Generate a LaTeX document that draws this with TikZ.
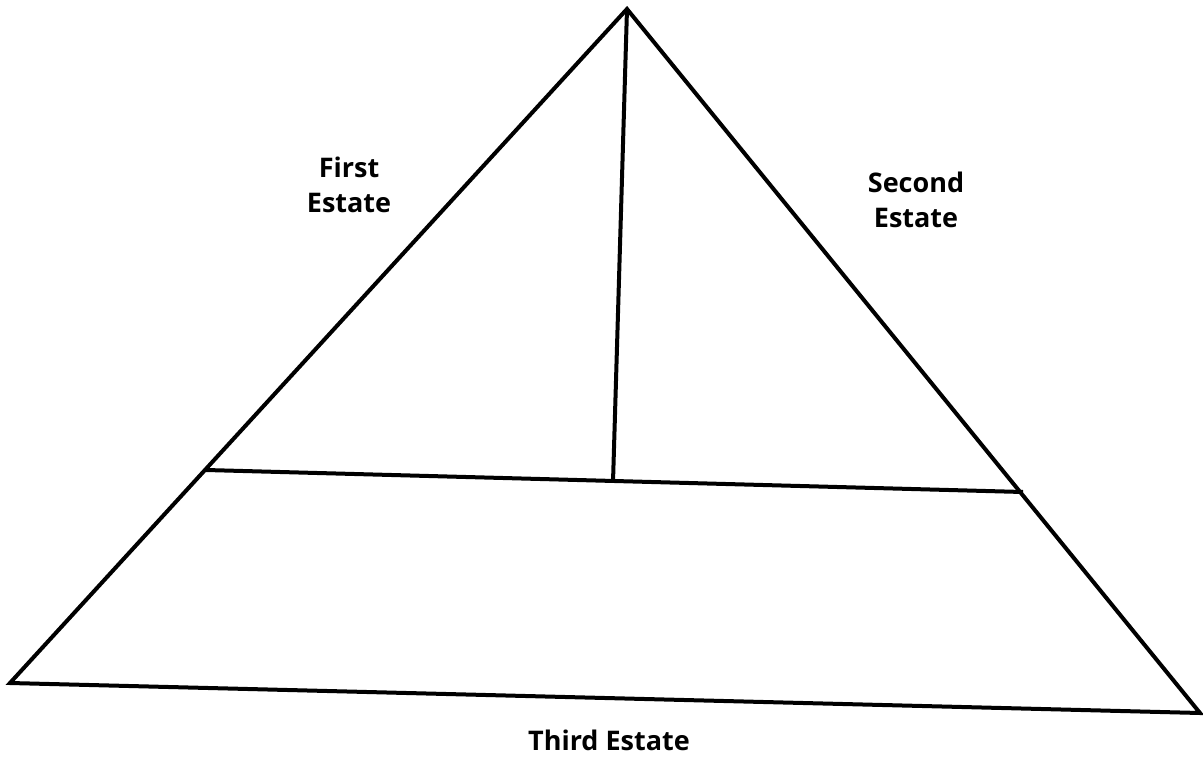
\documentclass[tikz,border=0pt]{standalone}
\usepackage{fontspec}
\setmainfont{Open Sans}
\begin{document}
\begin{tikzpicture}[x=1pt,y=-1pt,
  edge/.style={line width=4pt,line join=miter,black},
  lbl/.style={font=\fontsize{27}{35}\selectfont\bfseries,align=center,inner sep=0pt}]
\useasboundingbox (0,0) rectangle (1203,763);
\coordinate (apex) at (627,9);
\coordinate (bl) at (10,683);
\coordinate (br) at (1200,713);
\coordinate (hl) at (206,470);
\coordinate (hr) at (1023,492);
\coordinate (vb) at (613,482);
\draw[edge] (apex) -- (bl) -- (br) -- cycle;
\draw[edge] (hl) -- (hr);
\draw[edge] (apex) -- (vb);
\node[lbl] (first) at (349,185) {First\\Estate};
\node[lbl] (second) at (916,200) {Second\\Estate};
\node[lbl] (third) at (609,740) {Third Estate};
\end{tikzpicture}
\end{document}
